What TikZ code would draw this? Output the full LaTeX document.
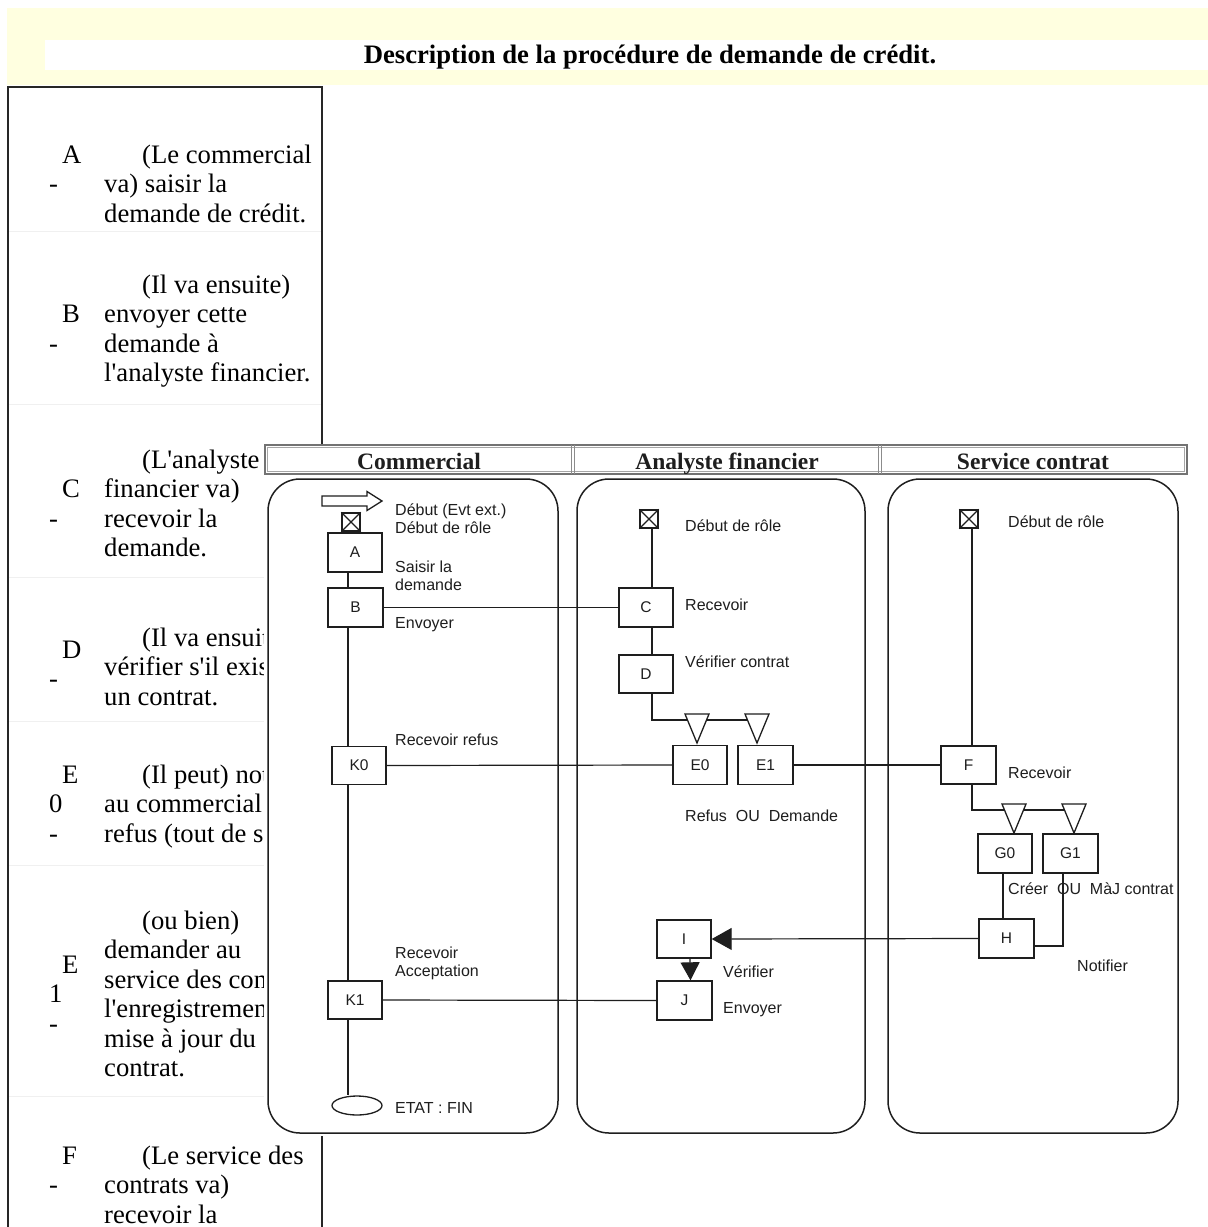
\documentclass[tikz,border=0pt]{standalone}
\usepackage{fontspec}
\newfontfamily\tserif{Liberation Serif}
\newfontfamily\lsans{Liberation Sans}
\usetikzlibrary{arrows.meta,shapes.geometric}
\definecolor{band}{HTML}{FFFFE0}
\definecolor{ink}{HTML}{1E1E1E}
\tikzset{
 bx/.style={draw=ink, line width=1.4pt, fill=white, minimum width=54pt, minimum height=39pt, inner sep=0pt, text=ink, font=\lsans\fontsize{15.5}{15.5}\selectfont},
 lbl/.style={anchor=base west, inner sep=0pt, text=ink, font=\lsans\fontsize{16}{16}\selectfont},
 ln/.style={draw=ink, line width=1.2pt},
 lane/.style={draw=ink, line width=1.5pt, rounded corners=32pt},
 body/.style={anchor=base west, inner sep=0pt, font=\tserif\fontsize{26.67}{29.5}\selectfont},
 hdr/.style={anchor=base, inner sep=0pt, text=ink, font=\tserif\bfseries\fontsize{23.5}{23.5}\selectfont},
 xsq/.style={draw=ink, line width=1.4pt, fill=white, minimum size=18pt, inner sep=0pt},
 tri/.style={draw=ink, line width=1.3pt, fill=white},
 dtri/.pic={\draw[tri] (-12,0) -- (12,0) -- (0,29) -- cycle;},
 tab/.style={draw=black!85, line width=1.5pt},
 faint/.style={draw=black!6, line width=1pt}
}
\begin{document}
\begin{tikzpicture}[x=1pt,y=-1pt]
\useasboundingbox (0,0) rectangle (1208,1227);
\fill[white] (0,0) rectangle (1208,1227);
% title band
\fill[band] (7,8) rectangle (1208,85);
\fill[white] (45,40) rectangle (1208,70);
\node[anchor=base, inner sep=0pt, font=\tserif\bfseries\fontsize{26.67}{30}\selectfont] (title) at (650,63) {Description de la procédure de demande de crédit.};
% table
\draw[tab] (8,1227) -- (8,87) -- (322,87) -- (322,1227);
\foreach \yy in {231,404,577,721,865,1096} \draw[faint] (9,\yy) -- (321,\yy);
% row A
\node[body] (lA) at (62,163) {A};
\node[body] (dA) at (49,192.5) {-};
\node[body] (tA1) at (142,163) {(Le commercial};
\node[body] (tA2) at (104,192.5) {va) saisir la};
\node[body] (tA3) at (104,222) {demande de crédit.};
% row B
\node[body] (lB) at (62,322.5) {B};
\node[body] (dB) at (49,352) {-};
\node[body] (tB1) at (142,293) {(Il va ensuite)};
\node[body] (tB2) at (104,322.5) {envoyer cette};
\node[body] (tB3) at (104,352) {demande à};
\node[body] (tB4) at (104,381.5) {l'analyste financier.};
% row C
\node[body] (lC) at (62,497.5) {C};
\node[body] (dC) at (49,527) {-};
\node[body] (tC1) at (142,468) {(L'analyste};
\node[body] (tC2) at (104,497.5) {financier va)};
\node[body] (tC3) at (104,527) {recevoir la};
\node[body] (tC4) at (104,556.5) {demande.};
% row D
\node[body] (lD) at (62,658) {D};
\node[body] (dD) at (49,687) {-};
\node[body] (tD1) at (142,646) {(Il va ensuit};
\node[body] (tD2) at (104,675.5) {vérifier s'il exis};
\node[body] (tD3) at (104,705) {un contrat.};
% row E0
\node[body] (lE0) at (62,783) {E};
\node[body] (nE0) at (49,812.5) {0};
\node[body] (dE0) at (49,842) {-};
\node[body] (tE01) at (142,783) {(Il peut) not};
\node[body] (tE02) at (104,812.5) {au commercial};
\node[body] (tE03) at (104,842) {refus (tout de s};
% row E1
\node[body] (lE1) at (62,973) {E};
\node[body] (nE1) at (49,1002.5) {1};
\node[body] (dE1) at (49,1032) {-};
\node[body] (tE11) at (142,929) {(ou bien)};
\node[body] (tE12) at (104,958.5) {demander au};
\node[body] (tE13) at (104,988) {service des con};
\node[body] (tE14) at (104,1017.5) {l'enregistremen};
\node[body] (tE15) at (104,1047) {mise à jour du};
\node[body] (tE16) at (104,1076.5) {contrat.};
% row F
\node[body] (lF) at (62,1164) {F};
\node[body] (dF) at (49,1193.5) {-};
\node[body] (tF1) at (142,1164) {(Le service des};
\node[body] (tF2) at (104,1193.5) {contrats va)};
\node[body] (tF3) at (104,1223) {recevoir la};
% diagram image background
\fill[white] (264,444) rectangle (1190,1136);
% header
\draw[black!55, line width=1.2pt, fill=white] (265,445) rectangle (1187,474);
\draw[black!35, line width=0.8pt] (267.5,447.5) rectangle (1184.5,471.5);
\draw[black!45, line width=1pt] (571.5,445) -- (571.5,474) (574.5,445) -- (574.5,474);
\draw[black!45, line width=1pt] (878.5,445) -- (878.5,474) (881.5,445) -- (881.5,474);
\node[hdr] (h1) at (419,469) {Commercial};
\node[hdr] (h2) at (727,469) {Analyste financier};
\node[hdr] (h3) at (1033,469) {Service contrat};
% lanes
\draw[lane] (268,479) rectangle (558,1133);
\draw[lane] (577,479) rectangle (865,1133);
\draw[lane] (888,479) rectangle (1178,1133);
% lane 1 elements
\draw[line width=1.3pt, draw=ink, fill=white] (322,496) -- (367,496) -- (367,491.5) -- (382,501) -- (367,510.5) -- (367,506) -- (322,506) -- cycle;
\node[xsq] (s1) at (351,522) {};
\node[bx] (A) at (355,552.5) {A};
\node[bx, minimum width=55pt] (B) at (355.5,607.5) {B};
\node[bx, minimum height=38pt] (K0) at (359,765.5) {K0};
\node[bx, minimum height=38pt] (K1) at (355,1000) {K1};
\node[draw=ink, ellipse, line width=1.3pt, minimum width=50pt, minimum height=19pt, inner sep=0pt, fill=white] (fin) at (357,1105.5) {};
% lane 2 elements
\node[xsq] (s2) at (649,519) {};
\node[bx] (C) at (646,607.5) {C};
\node[bx, minimum height=38pt] (D) at (646,674) {D};
\node[bx] (E0) at (700,765) {E0};
\node[bx, minimum width=55pt] (E1) at (765.5,765) {E1};
\node[bx, minimum height=38pt] (I) at (684,939) {I};
\node[bx, minimum width=55pt] (J) at (684.5,1000.5) {J};
% lane 3 elements
\node[xsq] (s3) at (969,519) {};
\node[bx, minimum width=55pt, minimum height=38pt] (F) at (968.5,765) {F};
\node[bx] (G0) at (1005,853.5) {G0};
\node[bx, minimum width=55pt] (G1) at (1070.5,853.5) {G1};
\node[bx, minimum width=55pt] (H) at (1006.5,938.5) {H};
% crosses
\foreach \s in {s1,s2,s3} \draw[ink, line width=1.1pt] (\s.north west) -- (\s.south east) (\s.north east) -- (\s.south west);
% guide coordinates
\coordinate (v1) at (348,0);
\coordinate (v2) at (652,0);
\coordinate (v3) at (972,0);
\coordinate (j2) at (652,720);
\coordinate (j3) at (972,810);
\coordinate (t21) at (697,714);
\coordinate (t22) at (757,714);
\coordinate (t31) at (1014,804);
\coordinate (t32) at (1074,804);
% connectors lane 1
\draw[ln] (A.south -| v1) -- (B.north -| v1);
\draw[ln] (B.south -| v1) -- (K0.north -| v1);
\draw[ln] (K0.south -| v1) -- (K1.north -| v1);
\draw[ln] (K1.south -| v1) -- (fin.north -| v1);
\draw[ln] (B.east) -- (C.west);
\draw[ln] (K0.east) -- (E0.west);
\draw[ln] (K1.east) -- (J.west);
% connectors lane 2
\draw[ln] (s2.south -| v2) -- (C.north -| v2);
\draw[ln] (C.south -| v2) -- (D.north -| v2);
\draw[ln] (D.south -| v2) -- (j2) -- (j2 -| t22);
\draw[ln] (E1.east) -- (F.west);
\draw[ln, -{Triangle[length=20pt,width=22pt]}] (H.west) -- (I.east);
\draw[ln, -{Triangle[length=18pt,width=19pt]}] ([xshift=6pt]I.south) -- ([xshift=6pt]J.north);
% connectors lane 3
\draw[ln] (s3.south -| v3) -- (F.north -| v3);
\draw[ln] (F.south -| v3) -- (j3) -- (j3 -| t32);
\draw[ln] ([xshift=-2pt]G0.south) -- ([xshift=-2pt]G0.south |- H.north);
\draw[ln] ([xshift=-7.5pt]G1.south) |- ([yshift=-7.5pt]H.east);
% triangles
\pic at (t21) {dtri};
\pic at (t22) {dtri};
\pic at (t31) {dtri};
\pic at (t32) {dtri};
% labels lane 1
\node[lbl] (l1a) at (395,515) {Début (Evt ext.)};
\node[lbl] (l1b) at (395,533) {Début de rôle};
\node[lbl] (l1c) at (395,572) {Saisir la};
\node[lbl] (l1d) at (395,590) {demande};
\node[lbl] (l1e) at (395,628) {Envoyer};
\node[lbl] (l1f) at (395,745) {Recevoir refus};
\node[lbl] (l1g) at (395,958) {Recevoir};
\node[lbl] (l1h) at (395,976) {Acceptation};
\node[lbl] (l1i) at (395,1113) {ETAT : FIN};
% labels lane 2
\node[lbl] (l2a) at (685,531) {Début de rôle};
\node[lbl] (l2b) at (685,610) {Recevoir};
\node[lbl] (l2c) at (685,667) {Vérifier contrat};
\node[lbl] (l2d) at (685,821) {Refus\ \ OU\ \ Demande};
\node[lbl] (l2e) at (723,977) {Vérifier};
\node[lbl] (l2f) at (723,1013) {Envoyer};
% labels lane 3
\node[lbl] (l3a) at (1008,527) {Début de rôle};
\node[lbl] (l3b) at (1008,778) {Recevoir};
\node[lbl] (l3c) at (1008,894) {Créer\ \ OU\ \ MàJ contrat};
\node[lbl] (l3d) at (1077,971) {Notifier};
\end{tikzpicture}
\end{document}
